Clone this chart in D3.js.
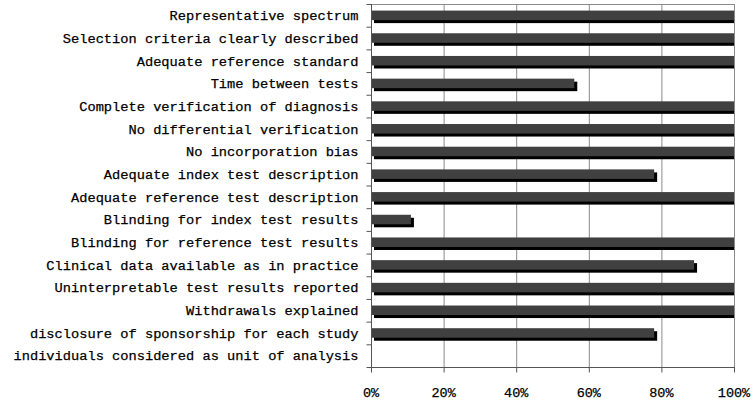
<!DOCTYPE html>
<html>
<head>
<meta charset="utf-8">
<script src="https://cdn.jsdelivr.net/npm/d3@7"></script>
<style>
  html, body { margin: 0; padding: 0; background: #fff; }
  svg { display: block; }
  text { font-family: "Liberation Mono", "DejaVu Sans Mono", monospace; fill: #000; stroke: #000; stroke-width: 0.25px; }
</style>
</head>
<body>
<svg id="chart" width="755" height="404"></svg>
<script>
const categories = [
  "Representative spectrum",
  "Selection criteria clearly described",
  "Adequate reference standard",
  "Time between tests",
  "Complete verification of diagnosis",
  "No differential verification",
  "No incorporation bias",
  "Adequate index test description",
  "Adequate reference test description",
  "Blinding for index test results",
  "Blinding for reference test results",
  "Clinical data available as in practice",
  "Uninterpretable test results reported",
  "Withdrawals explained",
  "disclosure of sponsorship for each study",
  "individuals considered as unit of analysis"
];
const values = [100, 100, 100, 56, 100, 100, 100, 78, 100, 11, 100, 89, 100, 100, 78, 0];
const xTicks = [0, 20, 40, 60, 80, 100];

const svg = d3.select("#chart");
const m = { left: 371, right: 734, top: 4, bottom: 367 };

const x = d3.scaleLinear().domain([0, 100]).range([m.left, m.right]);
const y = d3.scaleBand().domain(categories).range([m.top, m.bottom]).paddingInner(0.58).paddingOuter(0.29);
const band = d3.scaleBand().domain(categories).range([m.top, m.bottom]);

// vertical gridlines
svg.append("g").selectAll("line").data(xTicks.slice(1)).join("line")
  .attr("x1", d => x(d) + 0.5).attr("x2", d => x(d) + 0.5)
  .attr("y1", m.top).attr("y2", m.bottom)
  .attr("stroke", "#8a8a8a").attr("stroke-width", 1);

// top border
svg.append("line")
  .attr("x1", m.left).attr("x2", m.right + 1)
  .attr("y1", m.top + 0.5).attr("y2", m.top + 0.5)
  .attr("stroke", "#8a8a8a");

// bars: shadow then front
const shadowOff = 3;
svg.append("g").selectAll("rect").data(values).join("rect")
  .attr("x", (d) => x(0) + shadowOff)
  .attr("y", (d, i) => y(categories[i]) + shadowOff)
  .attr("width", d => Math.max(0, Math.min(x(d) - x(0), x(100) - x(0) - shadowOff)))
  .attr("height", y.bandwidth())
  .attr("fill", "#000");

svg.append("g").selectAll("rect").data(values).join("rect")
  .attr("x", x(0))
  .attr("y", (d, i) => y(categories[i]))
  .attr("width", d => x(d) - x(0))
  .attr("height", y.bandwidth())
  .attr("fill", "#404040");

// left axis
const yAxis = svg.append("g").attr("transform", `translate(${m.left + 0.5},0)`);
yAxis.append("line").attr("y1", m.top).attr("y2", m.bottom).attr("stroke", "#555");
yAxis.selectAll("line.tk").data(d3.range(categories.length + 1)).join("line")
  .attr("class", "tk")
  .attr("x1", -5).attr("x2", 0)
  .attr("y1", i => (i < categories.length ? band(categories[i]) : m.bottom) + 0.5)
  .attr("y2", i => (i < categories.length ? band(categories[i]) : m.bottom) + 0.5)
  .attr("stroke", "#555");
yAxis.selectAll("text").data(categories).join("text")
  .attr("x", -13)
  .attr("y", d => band(d) + band.bandwidth() / 2)
  .attr("dy", "0.35em")
  .attr("text-anchor", "end")
  .attr("font-size", "13.7px")
  .text(d => d);

// bottom axis
const xAxis = svg.append("g").attr("transform", `translate(0,${m.bottom + 0.5})`);
xAxis.append("line").attr("x1", m.left).attr("x2", m.right + 1).attr("stroke", "#555");
xAxis.selectAll("line.tk").data(xTicks).join("line")
  .attr("class", "tk")
  .attr("x1", d => x(d) + 0.5).attr("x2", d => x(d) + 0.5)
  .attr("y1", 0).attr("y2", 5)
  .attr("stroke", "#555");
xAxis.selectAll("text").data(xTicks).join("text")
  .attr("x", d => x(d))
  .attr("y", 29)
  .attr("text-anchor", "middle")
  .attr("font-size", "13.5px")
  .text(d => d + "%");
</script>
</body>
</html>
